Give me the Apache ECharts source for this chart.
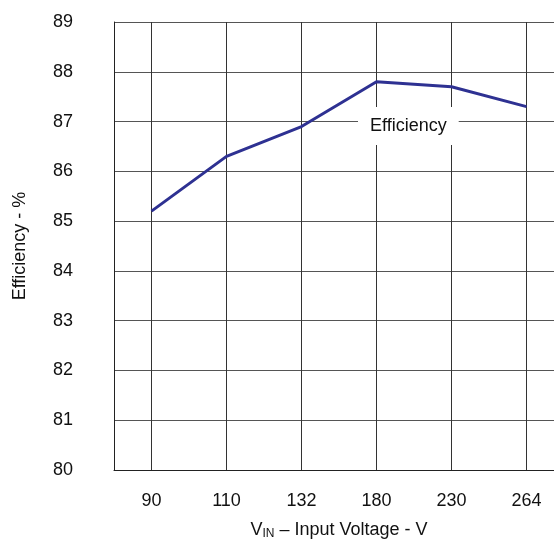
<!DOCTYPE html>
<html>
<head>
<meta charset="utf-8">
<script src="https://cdn.jsdelivr.net/npm/echarts@6/dist/echarts.min.js"></script>
<style>
  html, body { margin: 0; padding: 0; background: #fff; }
  #chart { width: 554px; height: 542px; }
</style>
</head>
<body>
<div id="chart"></div>
<script>
// Input voltage categories (V) and measured efficiency (%)
const inputVoltages = ['90', '110', '132', '180', '230', '264'];
const efficiency = [85.2, 86.3, 86.9, 87.8, 87.7, 87.3];
const yTicks = { min: 80, max: 89, step: 1 };

const chart = echarts.init(document.getElementById('chart'), null, { renderer: 'canvas' });
const font = 'Liberation Sans, Arial, sans-serif';

chart.setOption({
  animation: false,
  backgroundColor: '#ffffff',
  grid: {
    left: 114, top: 22, height: 448, width: 450,
    containLabel: false, outerBoundsMode: 'none'
  },
  xAxis: {
    type: 'category',
    data: inputVoltages,
    boundaryGap: true,
    axisLine: { show: true, lineStyle: { color: '#222', width: 1 } },
    axisTick: {
      show: true, alignWithLabel: true, inside: true, length: 448,
      lineStyle: { color: '#333', width: 1 }
    },
    splitLine: { show: false },
    axisLabel: { color: '#111', fontFamily: font, fontSize: 18, margin: 22 },
    name: '{v|V}{sub|IN}{t| – Input Voltage - V}',
    nameLocation: 'middle',
    nameGap: 51,
    nameTextStyle: {
      rich: {
        v: { fontFamily: font, fontSize: 18, color: '#111' },
        sub: { fontFamily: font, fontSize: 12, color: '#111', verticalAlign: 'bottom', padding: [7, 0, 0, 0] },
        t: { fontFamily: font, fontSize: 18, color: '#111' }
      }
    }
  },
  yAxis: {
    type: 'value',
    min: yTicks.min,
    max: yTicks.max,
    interval: yTicks.step,
    axisLine: { show: true, lineStyle: { color: '#222', width: 1 } },
    axisTick: { show: false },
    splitLine: { show: true, lineStyle: { color: '#555', width: 1 } },
    axisLabel: { color: '#111', fontFamily: font, fontSize: 18, margin: 41 },
    name: 'Efficiency - %',
    nameLocation: 'middle',
    nameGap: 85,
    nameRotate: 90,
    nameTextStyle: { fontFamily: font, fontSize: 18, color: '#111' }
  },
  series: [{
    type: 'line',
    data: efficiency,
    symbol: 'none',
    lineStyle: { color: '#2e3192', width: 3 },
    z: 5
  }],
  graphic: [{
    type: 'text',
    left: 358,
    top: 107,
    z: 10,
    style: {
      text: 'Efficiency',
      fontFamily: font,
      fontSize: 18,
      fill: '#111',
      backgroundColor: '#ffffff',
      padding: [10, 12, 10, 12]
    }
  }]
});
</script>
</body>
</html>
